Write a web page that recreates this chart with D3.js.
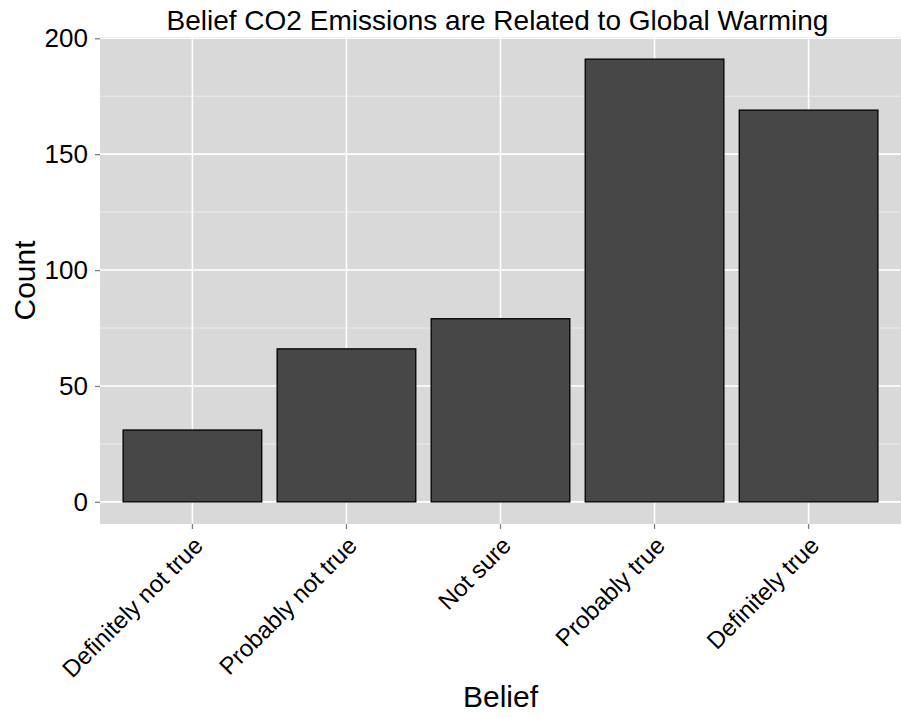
<!DOCTYPE html>
<html><head><meta charset="utf-8">
<script src="https://cdn.jsdelivr.net/npm/d3@7"></script>
<style>body{margin:0;background:#fff}svg{display:block}text{font-family:"Liberation Sans",Arial,sans-serif}</style>
</head><body><svg id="c" width="902" height="717"></svg>
<script>
const categories = ["Definitely not true","Probably not true","Not sure","Probably true","Definitely true"];
const counts = [31, 66, 79, 191, 169];
const yTicks = [0, 50, 100, 150, 200];
const yMinor = [25, 75, 125, 175];
const title = "Belief CO2 Emissions are Related to Global Warming";

const svg = d3.select("#c");
const L = 100, R = 901, T = 37, B = 524;
const x = d3.scaleBand().domain(categories).range([L, R]).paddingInner(0.1).paddingOuter(0.15);
const y = d3.scaleLinear().domain([-9.55, 200.55]).range([B, T]);

svg.append("rect").attr("x", L).attr("y", T).attr("width", R - L).attr("height", B - T).attr("fill", "#d9d9d9");
svg.append("g").selectAll("line").data(yMinor).join("line")
  .attr("x1", L).attr("x2", R).attr("y1", d => y(d)).attr("y2", d => y(d))
  .attr("stroke", "#ececec").attr("stroke-width", 1);
svg.append("g").selectAll("line").data(yTicks).join("line")
  .attr("x1", L).attr("x2", R).attr("y1", d => y(d)).attr("y2", d => y(d))
  .attr("stroke", "#fff").attr("stroke-width", 1.6);
svg.append("g").selectAll("line").data(categories).join("line")
  .attr("x1", d => x(d) + x.bandwidth() / 2).attr("x2", d => x(d) + x.bandwidth() / 2)
  .attr("y1", T).attr("y2", B).attr("stroke", "#fff").attr("stroke-width", 1.6);

svg.append("g").selectAll("rect").data(categories).join("rect")
  .attr("x", d => x(d)).attr("width", x.bandwidth())
  .attr("y", (d, i) => y(counts[i])).attr("height", (d, i) => y(0) - y(counts[i]))
  .attr("fill", "#474747").attr("stroke", "#000").attr("stroke-width", 1.3);

// y axis
const ya = svg.append("g").attr("transform", `translate(${L},0)`)
  .call(d3.axisLeft(y).tickValues(yTicks).tickSize(5).tickPadding(7));
ya.select(".domain").remove();
ya.selectAll(".tick line").attr("stroke", "#7f7f7f").attr("stroke-width", 1.3);
ya.selectAll(".tick text").attr("font-size", 26).attr("fill", "#000").attr("font-family", "Liberation Sans, Arial, sans-serif");

// x axis
const xa = svg.append("g").attr("transform", `translate(0,${B})`)
  .call(d3.axisBottom(x).tickSize(5).tickPadding(0));
xa.select(".domain").remove();
xa.selectAll(".tick line").attr("stroke", "#7f7f7f").attr("stroke-width", 1.3);
xa.selectAll(".tick text").attr("font-size", 24).attr("fill", "#000")
  .attr("font-family", "Liberation Sans, Arial, sans-serif")
  .attr("text-anchor", "end").attr("dy", null).attr("y", null)
  .attr("transform", "translate(12,23) rotate(-45)");

svg.append("text").attr("x", (L + R) / 2 - 3).attr("y", 30).attr("text-anchor", "middle")
  .attr("font-size", 28).attr("fill", "#000").text(title);
svg.append("text").attr("x", (L + R) / 2).attr("y", 707).attr("text-anchor", "middle")
  .attr("font-size", 30).attr("fill", "#000").text("Belief");
svg.append("text").attr("transform", `translate(35,${(T + B) / 2}) rotate(-90)`).attr("text-anchor", "middle")
  .attr("font-size", 30).attr("fill", "#000").text("Count");
</script></body></html>
